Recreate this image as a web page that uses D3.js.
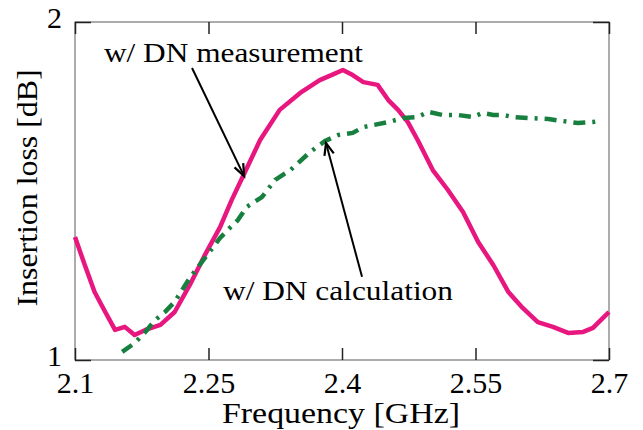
<!DOCTYPE html>
<html>
<head>
<meta charset="utf-8">
<script src="https://cdn.jsdelivr.net/npm/d3@7"></script>
<style>
  body { margin: 0; background: #fff; }
  svg text { font-family: "Times New Roman", "Liberation Serif", Tinos, Times, serif !important; fill: #000; }
</style>
</head>
<body>
<div id="graph"></div>
<script>
// measured insertion loss (pink) and calculated (green), freq in GHz, loss in dB
var measFreq = [2.100, 2.111, 2.122, 2.134, 2.145, 2.156, 2.167, 2.179, 2.196, 2.212,
  2.229, 2.246, 2.263, 2.276, 2.291, 2.308, 2.330, 2.353, 2.375, 2.390,
  2.401, 2.412, 2.424, 2.440, 2.452, 2.463, 2.474, 2.485, 2.502, 2.519,
  2.536, 2.553, 2.570, 2.587, 2.603, 2.620, 2.637, 2.654, 2.671, 2.682,
  2.693, 2.700]
var measLoss = [1.364, 1.281, 1.201, 1.142, 1.089, 1.098, 1.074, 1.089, 1.104, 1.142,
  1.222, 1.311, 1.393, 1.473, 1.556, 1.651, 1.740, 1.790, 1.828, 1.845,
  1.858, 1.843, 1.822, 1.814, 1.769, 1.740, 1.704, 1.651, 1.562, 1.503,
  1.438, 1.349, 1.281, 1.201, 1.154, 1.112, 1.098, 1.080, 1.083, 1.095,
  1.124, 1.142]

var calcFreq = [2.153, 2.167, 2.179, 2.190, 2.201, 2.212, 2.229, 2.246, 2.263, 2.274,
  2.283, 2.293, 2.310, 2.325, 2.342, 2.364, 2.381, 2.396, 2.412, 2.424,
  2.435, 2.452, 2.469, 2.485, 2.497, 2.513, 2.530, 2.547, 2.558, 2.570,
  2.581, 2.592, 2.609, 2.632, 2.648, 2.665, 2.682, 2.688]
var calcLoss = [1.024, 1.050, 1.083, 1.118, 1.142, 1.172, 1.243, 1.302, 1.361, 1.391,
  1.414, 1.453, 1.482, 1.533, 1.562, 1.615, 1.648, 1.666, 1.672, 1.689,
  1.695, 1.704, 1.716, 1.719, 1.734, 1.725, 1.725, 1.719, 1.731, 1.725,
  1.725, 1.719, 1.716, 1.713, 1.707, 1.701, 1.704, 1.707]

var xTicks = [2.1, 2.25, 2.4, 2.55, 2.7]
var xTickLabels = ['2.1', '2.25', '2.4', '2.55', '2.7']
var yTicks = [1, 2]
var yTickLabels = ['1', '2']

var labels = ['w/ DN measurement', 'w/ DN calculation']
var labelAt = [[2.1326, 1.882], [2.2663, 1.1775]]
var arrowFrom = [[2.2315, 1.864], [2.4225, 1.246]]
var arrowTo = [[2.290, 1.544], [2.382, 1.642]]

var width = 643, height = 430
var margin = {top: 22, right: 34, bottom: 70, left: 75}
var iw = width - margin.left - margin.right
var ih = height - margin.top - margin.bottom

var svg = d3.select('#graph').append('svg')
  .attr('width', width).attr('height', height)
var g = svg.append('g').attr('transform', `translate(${margin.left},${margin.top})`)

var x = d3.scaleLinear().domain([2.1, 2.7]).range([0, iw])
var y = d3.scaleLinear().domain([1, 2]).range([ih, 0])

// frame
g.append('rect')
  .attr('width', iw).attr('height', ih)
  .attr('fill', 'none').attr('stroke', '#808080').attr('stroke-width', 1.3)

// x ticks, inward on bottom and top
var xb = g.append('g').attr('transform', `translate(0,${ih})`)
  .call(d3.axisBottom(x).tickValues(xTicks).tickSizeInner(-12).tickSizeOuter(0)
    .tickFormat((d, i) => xTickLabels[i]))
var xt = g.append('g')
  .call(d3.axisTop(x).tickValues(xTicks).tickSizeInner(-12).tickSizeOuter(0)
    .tickFormat(''))
var yl = g.append('g')
  .call(d3.axisLeft(y).tickValues(yTicks).tickSizeInner(-16).tickSizeOuter(0)
    .tickFormat((d, i) => yTickLabels[i]))
var yr = g.append('g').attr('transform', `translate(${iw},0)`)
  .call(d3.axisRight(y).tickValues(yTicks).tickSizeInner(-16).tickSizeOuter(0)
    .tickFormat(''))

;[xb, xt, yl, yr].forEach(a => {
  a.select('.domain').remove()
  a.attr('font-family', null)
  a.selectAll('line').attr('stroke', '#222').attr('stroke-width', 1.5)
})
xb.selectAll('text').attr('font-size', 30).attr('y', 33).attr('dy', null).attr('fill', '#000')
yl.selectAll('text').attr('font-size', 30).attr('x', -13).attr('dy', '0.32em')
  .attr('y', -4).attr('fill', '#000')

// curves
var line = d3.line().x(d => x(d[0])).y(d => y(d[1]))
g.append('path')
  .datum(measFreq.map((f, i) => [f, measLoss[i]]))
  .attr('d', line)
  .attr('fill', 'none').attr('stroke', '#e8177f').attr('stroke-width', 4.5)
  .attr('stroke-linejoin', 'round')
g.append('path')
  .datum(calcFreq.map((f, i) => [f, calcLoss[i]]))
  .attr('d', line)
  .attr('fill', 'none').attr('stroke', '#17803f').attr('stroke-width', 4.5)
  .attr('stroke-dasharray', '12,7,3,7')

// annotations
var labelLen = [259, 230]
labels.forEach((t, i) => {
  g.append('text')
    .attr('x', x(labelAt[i][0])).attr('y', y(labelAt[i][1]))
    .attr('font-size', 27)
    .attr('textLength', labelLen[i]).attr('lengthAdjust', 'spacingAndGlyphs')
    .text(t)

  var x0 = x(arrowFrom[i][0]), y0 = y(arrowFrom[i][1])
  var x1 = x(arrowTo[i][0]), y1 = y(arrowTo[i][1])
  g.append('line')
    .attr('x1', x0).attr('y1', y0).attr('x2', x1).attr('y2', y1)
    .attr('stroke', '#000').attr('stroke-width', 2)
  // open arrowhead
  var ang = Math.atan2(y1 - y0, x1 - x0), L = 13, spread = 0.38
  var p = [
    [x1 - L*Math.cos(ang - spread), y1 - L*Math.sin(ang - spread)],
    [x1, y1],
    [x1 - L*Math.cos(ang + spread), y1 - L*Math.sin(ang + spread)]
  ]
  g.append('path').attr('d', 'M' + p.join('L'))
    .attr('fill', 'none').attr('stroke', '#000').attr('stroke-width', 2.2)
})

// axis titles
svg.append('text')
  .attr('x', 341).attr('y', 423).attr('text-anchor', 'middle')
  .attr('font-size', 30).attr('textLength', 238).attr('lengthAdjust', 'spacingAndGlyphs')
  .text('Frequency [GHz]')
svg.append('text')
  .attr('transform', 'translate(37,188) rotate(-90)').attr('text-anchor', 'middle')
  .attr('font-size', 30).attr('textLength', 237).attr('lengthAdjust', 'spacingAndGlyphs')
  .text('Insertion loss [dB]')
</script>
</body>
</html>
